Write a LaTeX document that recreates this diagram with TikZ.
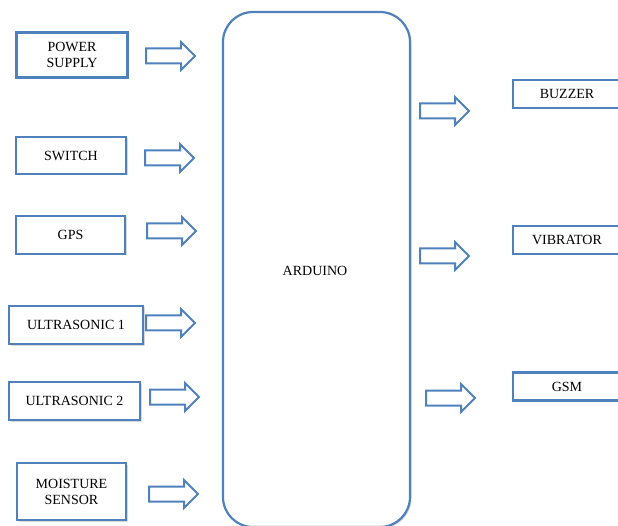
\documentclass[tikz,border=0pt]{standalone}
\usepackage{fontspec}
\setmainfont{Liberation Serif}
\usetikzlibrary{shapes.arrows,shadows}
\definecolor{boxblue}{HTML}{4F81BD}
\begin{document}
\begin{tikzpicture}[x=1pt,y=-1pt,font=\fontsize{14}{16}\selectfont,
  blk/.style={draw=boxblue,line width=2.2pt,fill=white,align=center,inner sep=0pt,
    text=black,
    drop shadow={shadow xshift=1.5pt,shadow yshift=-1.5pt,opacity=0.25,fill=black!60}},
  fat/.style={single arrow,draw=boxblue,line width=2pt,fill=white,anchor=tail,
    minimum height=49pt,inner xsep=0pt,inner ysep=6.5pt,text height=0pt,text depth=0pt,
    single arrow head extend=6.5pt}]

\useasboundingbox (0,0) rectangle (618,526);
\clip (0,0) rectangle (618,526);

% inputs
\node[blk,minimum width=111pt,minimum height=45pt] (psu) at (72,55) {POWER\\SUPPLY};
\node[blk,minimum width=110pt,minimum height=37pt] (sw) at (71,155.5) {SWITCH};
\node[blk,minimum width=109pt,minimum height=38pt] (gps) at (70.5,235) {GPS};
\node[blk,minimum width=134pt,minimum height=38pt] (usa) at (76,325) {ULTRASONIC 1};
\node[blk,minimum width=131pt,minimum height=38pt] (usb) at (74.5,401) {ULTRASONIC 2};
\node[blk,minimum width=109pt,minimum height=57pt] (moist) at (71.5,491.5) {MOISTURE\\SENSOR};

% controller
\node[blk,rounded corners=30pt,minimum width=187pt,minimum height=515pt] (ard) at (316.5,269.5) {};
\node[text=black] (ardtxt) at (315,271) {ARDUINO};

% outputs
\node[blk,minimum width=108pt,minimum height=28pt] (buzz) at (567,94) {BUZZER};
\node[blk,minimum width=108pt,minimum height=28pt] (vib) at (567,240) {VIBRATOR};
\node[blk,minimum width=108pt,minimum height=28pt] (gsm) at (567,386.5) {GSM};

% block arrows
\node[fat] (a1) at (145,56) {};
\node[fat] (a2) at (144,158) {};
\node[fat] (a3) at (146,231) {};
\node[fat] (a4) at (145,323) {};
\node[fat] (a5) at (149,397) {};
\node[fat] (a6) at (148,494) {};
\node[fat] (a7) at (419,111) {};
\node[fat] (a8) at (419,256) {};
\node[fat] (a9) at (425,398) {};

\end{tikzpicture}
\end{document}
